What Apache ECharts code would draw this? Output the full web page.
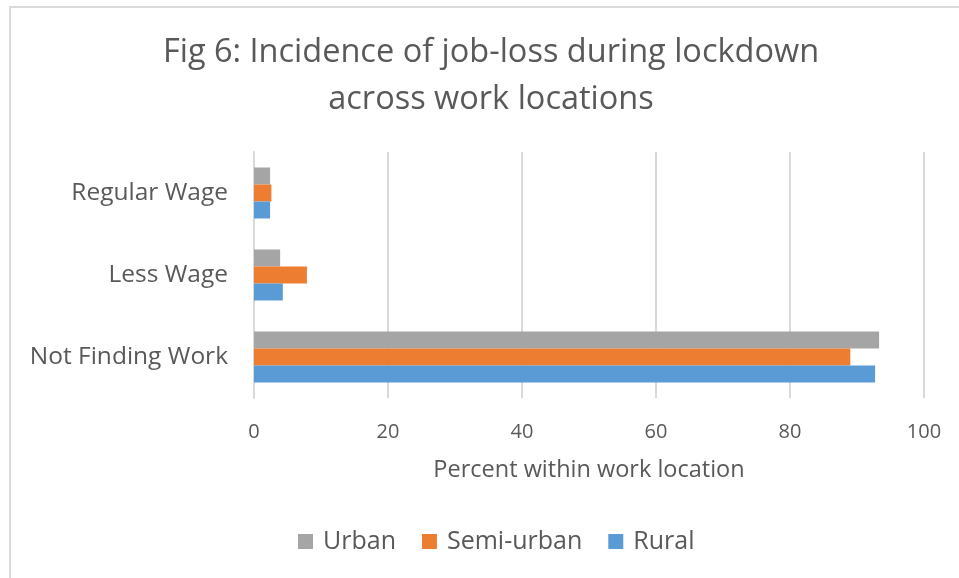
<!DOCTYPE html>
<html>
<head>
<meta charset="utf-8">
<script src="https://cdn.jsdelivr.net/npm/echarts@6/dist/echarts.min.js"></script>
<style>
  html, body { margin: 0; padding: 0; background: #fff; }
  #chart { width: 959px; height: 578px; }
</style>
</head>
<body>
<div id="chart"></div>
<script>
const categories = ['Not Finding Work', 'Less Wage', 'Regular Wage'];
const urban = [93.3, 3.9, 2.4];
const semiUrban = [89.0, 7.9, 2.6];
const rural = [92.7, 4.3, 2.4];
const xTicks = [0, 20, 40, 60, 80, 100];
const titleText = 'Fig 6: Incidence of job-loss during lockdown\nacross work locations';

const textColor = '#595959';
const font = 'Open Sans';

const chart = echarts.init(document.getElementById('chart'));

chart.setOption({
  animation: false,
  textStyle: { fontFamily: font, color: textColor },
  graphic: [{
    type: 'rect',
    shape: { x: 10, y: 7, width: 1000, height: 700 },
    style: { fill: 'none', stroke: '#D9D9D9', lineWidth: 2 },
    silent: true
  }, {
    // title drawn as text so its centre can sit over the plot like the original
    type: 'text',
    x: 491,
    y: 29,
    silent: true,
    style: {
      text: titleText,
      align: 'center',
      verticalAlign: 'top',
      fontSize: 32.5,
      lineHeight: 47,
      fontFamily: font,
      fill: textColor
    }
  }],
  legend: {
    data: ['Urban', 'Semi-urban', 'Rural'],
    bottom: 19,
    left: 293,
    icon: 'rect',
    itemWidth: 15,
    itemHeight: 15,
    itemGap: 26,
    textStyle: { fontSize: 25, color: textColor, fontFamily: font, padding: [0, 0, 0, 5] }
  },
  grid: { left: 254, right: 35, top: 152, bottom: 180, containLabel: false },
  xAxis: {
    type: 'value',
    min: xTicks[0],
    max: xTicks[xTicks.length - 1],
    interval: xTicks[1] - xTicks[0],
    name: 'Percent within work location',
    nameLocation: 'middle',
    nameGap: 60,
    nameTextStyle: { fontSize: 23.5, color: textColor, fontFamily: font },
    axisLine: { show: false },
    axisTick: { show: false },
    axisLabel: { fontSize: 20, color: textColor, margin: 24 },
    splitLine: { lineStyle: { color: '#D9D9D9', width: 2 } }
  },
  yAxis: {
    type: 'category',
    data: categories,
    axisLine: { show: true, lineStyle: { color: '#D9D9D9', width: 2 } },
    axisTick: { show: false },
    axisLabel: { fontSize: 24.5, color: textColor, margin: 26 }
  },
  series: [
    { name: 'Urban', type: 'bar', data: urban, barWidth: 17, barGap: '0%', itemStyle: { color: '#A5A5A5' } },
    { name: 'Semi-urban', type: 'bar', data: semiUrban, barWidth: 17, barGap: '0%', itemStyle: { color: '#ED7D31' } },
    { name: 'Rural', type: 'bar', data: rural, barWidth: 17, barGap: '0%', itemStyle: { color: '#5B9BD5' } }
  ]
});
</script>
</body>
</html>
